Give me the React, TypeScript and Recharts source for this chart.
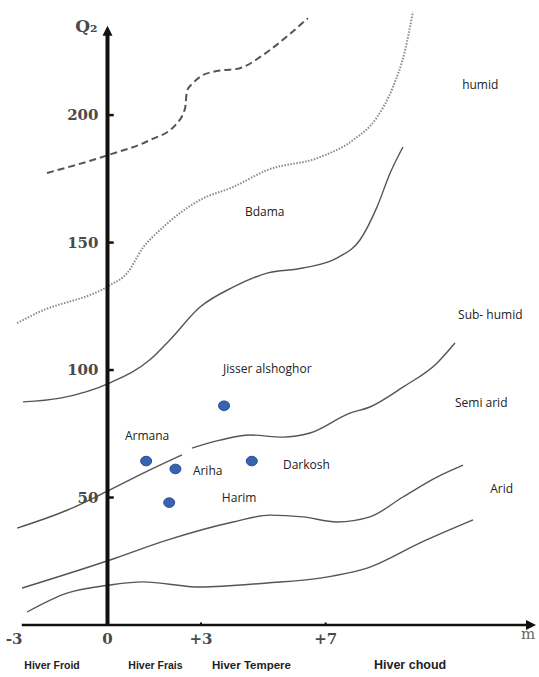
import React from "react";
import { ComposedChart, Line, Scatter, XAxis, YAxis, ReferenceLine, ReferenceDot } from "recharts";

// axis ticks
const xTicks = [-3, 0, 3, 7];
const yTicks = [50, 100, 150, 200];

// winter categories under the axis
const zoneNames = ["Hiver Froid", "Hiver Frais", "Hiver Tempere", "Hiver choud"];
const zoneCenters = [-1.78, 1.54, 4.62, 9.71];
const zoneFontSizes = [10.5, 10.5, 11.5, 12.5];

// bioclimatic limits (m, Q2)
const limitPerHumid = [
  { x: -1.94, y: 177.3 }, { x: 0.02, y: 184.3 }, { x: 1.36, y: 190.2 }, { x: 2.17, y: 196 },
  { x: 2.49, y: 202.7 }, { x: 2.55, y: 209.4 }, { x: 2.74, y: 212.5 }, { x: 3.06, y: 215.7 },
  { x: 3.39, y: 217 }, { x: 4.25, y: 218.4 }, { x: 4.89, y: 222.7 }, { x: 5.21, y: 225.5 },
  { x: 6.43, y: 238 },
];
const limitHumid = [
  { x: -2.9, y: 118.4 }, { x: -2.26, y: 122.4 }, { x: 0.08, y: 133.3 }, { x: 0.63, y: 138 },
  { x: 1.14, y: 148 }, { x: 1.69, y: 155 }, { x: 2.33, y: 161.6 }, { x: 2.97, y: 166.7 },
  { x: 4.03, y: 171.8 }, { x: 5.12, y: 178.4 }, { x: 6.82, y: 183.5 }, { x: 7.88, y: 190.2 },
  { x: 8.65, y: 199.2 }, { x: 9.16, y: 211 }, { x: 9.55, y: 225.5 }, { x: 9.8, y: 240.5 },
];
const limitSubHumid = [
  { x: -2.71, y: 87.5 }, { x: -1.52, y: 89 }, { x: 0.08, y: 95 }, { x: 1.36, y: 104 },
  { x: 2.0, y: 111.8 }, { x: 2.97, y: 124.7 }, { x: 4.03, y: 132.5 }, { x: 5.12, y: 138 },
  { x: 6.27, y: 140 }, { x: 7.37, y: 144 }, { x: 8.1, y: 151 }, { x: 8.65, y: 164 },
  { x: 9.07, y: 177.3 }, { x: 9.48, y: 187.5 },
];
const limitSemiArid = [
  { x: -2.9, y: 38 }, { x: -1.3, y: 45 }, { x: 0.08, y: 53 }, { x: 1.36, y: 60.8 },
  { x: 2.39, y: 66.7 }, { x: 2.55, y: null }, { x: 2.71, y: 69.4 }, { x: 3.61, y: 72.5 },
  { x: 4.57, y: 74.5 }, { x: 5.63, y: 73.7 }, { x: 6.5, y: 75.3 }, { x: 7.78, y: 83.1 },
  { x: 8.42, y: 85.5 }, { x: 9.48, y: 93.3 }, { x: 10.57, y: 102.7 }, { x: 11.15, y: 110.6 },
];
const limitArid = [
  { x: -2.74, y: 14.5 }, { x: 0.08, y: 25.5 }, { x: 1.91, y: 33.3 }, { x: 4.03, y: 40.4 },
  { x: 5.21, y: 43.1 }, { x: 6.27, y: 42.4 }, { x: 7.37, y: 40.4 }, { x: 8.42, y: 42.4 },
  { x: 9.48, y: 50.2 }, { x: 10.57, y: 58 }, { x: 11.41, y: 62.7 },
];
const limitSaharan = [
  { x: -2.58, y: 5.1 }, { x: -1.3, y: 12.5 }, { x: 0.08, y: 15.7 }, { x: 1.14, y: 16.9 },
  { x: 2.97, y: 14.9 }, { x: 5.12, y: 16.5 }, { x: 6.82, y: 18.4 }, { x: 8.42, y: 22.7 },
  { x: 10.03, y: 32.2 }, { x: 11.73, y: 41.2 },
];

// stations
const stations = [
  { name: "Jisser alshoghor", x: 3.74, y: 86 },
  { name: "Armana", x: 1.24, y: 64.3 },
  { name: "Ariha", x: 2.18, y: 61.2 },
  { name: "Darkosh", x: 4.63, y: 64.3 },
  { name: "Harim", x: 1.98, y: 48 },
];

// text annotations (left edge, vertical middle)
const notes = [
  { text: "Jisser alshoghor", x: 3.71, y: 100.4 },
  { text: "Armana", x: 0.56, y: 74.1 },
  { text: "Ariha", x: 2.74, y: 60.4 },
  { text: "Darkosh", x: 5.63, y: 62.7 },
  { text: "Harim", x: 3.67, y: 49.8 },
  { text: "Bdama", x: 4.41, y: 162 },
  { text: "humid", x: 11.38, y: 212 },
  { text: "Sub- humid", x: 11.25, y: 121.6 },
  { text: "Semi arid", x: 11.15, y: 87 },
  { text: "Arid", x: 12.28, y: 53.3 },
];

const X_DOMAIN = [-3, 13.75];
const Y_DOMAIN = [0, 242];

const serif = "DejaVu Serif";

function ArrowLine(props: any) {
  const { x1, y1, x2, y2, stroke, strokeWidth } = props;
  const a = Math.atan2(y2 - y1, x2 - x1);
  const len = 10, half = 5;
  const bx = x2 - len * Math.cos(a);
  const by = y2 - len * Math.sin(a);
  const p1 = `${x2},${y2}`;
  const p2 = `${bx + half * Math.sin(a)},${by - half * Math.cos(a)}`;
  const p3 = `${bx - half * Math.sin(a)},${by + half * Math.cos(a)}`;
  return (
    <g>
      <line x1={x1} y1={y1} x2={bx + 2 * Math.cos(a)} y2={by + 2 * Math.sin(a)} stroke={stroke} strokeWidth={strokeWidth} />
      <polygon points={`${p1} ${p2} ${p3}`} fill={stroke} />
    </g>
  );
}

function ValueTick({ x, y, payload }: any) {
  const v = payload.value;
  const label = v > 0 ? `+${v}` : `${v}`;
  return (
    <text x={x} y={y} dy={19} textAnchor="middle" fontFamily={serif} fontWeight="bold" fontSize={15} fill="#4a4a4a">
      {label}
    </text>
  );
}

function ZoneTick({ x, y, payload }: any) {
  const i = zoneCenters.indexOf(payload.value);
  return (
    <text x={x} y={y} dy={16} textAnchor="middle" fontFamily="Liberation Sans" fontWeight="bold" fontSize={zoneFontSizes[i]} fill="#222">
      {zoneNames[i]}
    </text>
  );
}

function StationDot({ cx, cy }: any) {
  return <ellipse cx={cx} cy={cy} rx={5.5} ry={4.8} fill="#3763b3" stroke="#2a4c8f" strokeWidth={1} />;
}

export default function App() {
  return (
    <div style={{ position: "absolute", left: 0, top: 0, width: 539, height: 677, background: "#fff" }}>
      <ComposedChart width={539} height={677} margin={{ top: 8, right: 3, left: 14, bottom: 0 }}>
        <XAxis
          dataKey="x"
          type="number"
          domain={X_DOMAIN}
          ticks={xTicks}
          interval={0}
          allowDataOverflow
          axisLine={false}
          tickLine={false}
          tickSize={0}
          tickMargin={0}
          height={28}
          tick={<ValueTick />}
        />
        <XAxis
          xAxisId="zones"
          dataKey="x"
          type="number"
          domain={X_DOMAIN}
          ticks={zoneCenters}
          interval={0}
          allowDataOverflow
          axisLine={false}
          tickLine={false}
          tickSize={0}
          tickMargin={0}
          height={24}
          tick={<ZoneTick />}
        />
        <YAxis dataKey="y" type="number" domain={Y_DOMAIN} allowDataOverflow hide />

        <Line data={limitPerHumid} dataKey="y" type="monotone" stroke="#555" strokeWidth={2} strokeDasharray="7 4" dot={false} isAnimationActive={false} />
        <Line data={limitHumid} dataKey="y" type="monotone" stroke="#8a8a8a" strokeWidth={2} strokeDasharray="1.5 1.5" dot={false} isAnimationActive={false} />
        <Line data={limitSubHumid} dataKey="y" type="monotone" stroke="#555" strokeWidth={1.4} dot={false} isAnimationActive={false} />
        <Line data={limitSemiArid} dataKey="y" type="monotone" stroke="#555" strokeWidth={1.4} dot={false} isAnimationActive={false} />
        <Line data={limitArid} dataKey="y" type="monotone" stroke="#555" strokeWidth={1.4} dot={false} isAnimationActive={false} />
        <Line data={limitSaharan} dataKey="y" type="monotone" stroke="#555" strokeWidth={1.4} dot={false} isAnimationActive={false} />
        {/* empty series so the zone axis is laid out */}
        <Scatter xAxisId="zones" data={[]} dataKey="y" isAnimationActive={false} />

        {/* axes drawn through the origin, with arrows */}
        <ReferenceLine segment={[{ x: -2.75, y: 0 }, { x: 13.75, y: 0 }]} stroke="#111" strokeWidth={2.5} shape={ArrowLine} />
        <ReferenceLine segment={[{ x: 0, y: 0 }, { x: 0, y: 235 }]} stroke="#111" strokeWidth={4} shape={ArrowLine} />
        {yTicks.map((v) => (
          <ReferenceLine key={`yt${v}`} segment={[{ x: 0, y: v }, { x: 0.2, y: v }]} stroke="#111" strokeWidth={2.5} />
        ))}
        {xTicks.filter((v) => v > 0).map((v) => (
          <ReferenceLine key={`xt${v}`} segment={[{ x: v, y: 0 }, { x: v, y: 1 }]} stroke="#111" strokeWidth={2} />
        ))}
        {yTicks.map((v) => (
          <ReferenceDot
            key={`yl${v}`}
            x={0}
            y={v}
            r={0}
            fill="none"
            stroke="none"
            label={{ value: String(v), position: "left", offset: 9, fontFamily: serif, fontWeight: "bold", fontSize: 15, fill: "#4a4a4a" }}
          />
        ))}
        <ReferenceDot x={0} y={235} r={0} fill="none" stroke="none"
          label={{ value: "Q₂", position: "left", offset: 10, fontFamily: serif, fontWeight: "bold", fontSize: 17, fill: "#4a4a4a" }} />
        <ReferenceDot x={13.5} y={0} r={0} fill="none" stroke="none"
          label={{ value: "m", position: "bottom", offset: 3, fontFamily: serif, fontSize: 15, fill: "#666" }} />

        <Scatter data={stations} dataKey="y" shape={<StationDot />} isAnimationActive={false} />

        {notes.map((n) => (
          <ReferenceDot
            key={n.text}
            x={n.x}
            y={n.y}
            r={0}
            fill="none"
            stroke="none"
            label={{ value: n.text, position: "right", offset: 0, fontFamily: "Open Sans", fontSize: 12, fill: "#222" }}
          />
        ))}
      </ComposedChart>
    </div>
  );
}
